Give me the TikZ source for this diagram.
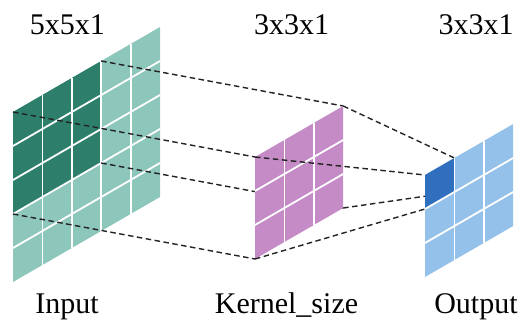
\documentclass[tikz,border=0pt]{standalone}
\usepackage{fontspec}
\setmainfont{Liberation Serif}
\newfontfamily\lblserif{Liberation Serif}
\definecolor{tealdark}{HTML}{2D7F6C}
\definecolor{teallight}{HTML}{8DC6BB}
\definecolor{kpink}{HTML}{C48BC6}
\definecolor{bluelight}{HTML}{94C1EA}
\definecolor{bluedark}{HTML}{2F6FBE}
\definecolor{dashcol}{HTML}{222222}
\newcommand\slantfill[5]{% x0, y0, ncols, nrows, colour
  \fill[#5] (#1,#2) -- ++(#3*29.4,-#3*17) -- ++(0,#4*34) -- ++(-#3*29.4,#3*17) -- cycle;}
\newcommand\slantlines[3]{% x0, y0, n
  \foreach \i in {1,...,\numexpr#3-1\relax}{
    \draw[gridline] (#1+\i*29.4,#2-\i*17) -- ++(0,#3*34);
    \draw[gridline] (#1,#2+\i*34) -- ++(#3*29.4,-#3*17);
  }}
\tikzset{
  gridline/.style={white,line width=1.8pt},
  conn/.style={dashcol,line width=1.4pt,dash pattern=on 5.5pt off 3.5pt},
  lbl/.style={font=\lblserif\fontsize{30}{33}\selectfont,anchor=base,inner sep=0pt}
}
\begin{document}
\begin{tikzpicture}[x=1pt,y=-1pt]
\useasboundingbox (0,0) rectangle (531,329);
% input grid
\slantfill{13}{112}{5}{5}{teallight}
\slantfill{13}{112}{3}{3}{tealdark}
\slantlines{13}{112}{5}
\coordinate (iTL) at (13,112);
\coordinate (iTR) at (101.2,61);
\coordinate (iBL) at (13,214);
\coordinate (iBR) at (101.2,163);
% kernel corners
\coordinate (kTL) at (255,157);
\coordinate (kTR) at (343.2,106);
\coordinate (kBL) at (255,259);
\coordinate (kBR) at (343.2,208);
% output dark cell corners
\coordinate (oTL) at (425,175);
\coordinate (oTR) at (454.4,158);
\coordinate (oBL) at (425,209);
\coordinate (oBR) at (454.4,192);
% input -> kernel
\draw[conn] (iTL) -- (kTL);
\draw[conn] (iTR) -- (kTR);
\draw[conn] (iBL) -- (kBL);
\draw[conn] (iBR) -- (kBR);
% kernel
\slantfill{255}{157}{3}{3}{kpink}
\slantlines{255}{157}{3}
% kernel -> output
\draw[conn] (kTL) -- (oTL);
\draw[conn] (kTR) -- (oTR);
\draw[conn] (kBL) -- (oBL);
\draw[conn] (kBR) -- (oBR);
% output
\slantfill{425}{175}{3}{3}{bluelight}
\slantfill{425}{175}{1}{1}{bluedark}
\slantlines{425}{175}{3}
% labels
\node[lbl] (t1) at (67.5,35) {5x5x1};
\node[lbl] (t2) at (291.5,35) {3x3x1};
\node[lbl] (t3) at (476,35) {3x3x1};
\node[lbl] (b1) at (67,313) {Input};
\node[lbl] (b2) at (286.5,313) {Kernel\_size};
\node[lbl] (b3) at (476,313) {Output};
\end{tikzpicture}
\end{document}
